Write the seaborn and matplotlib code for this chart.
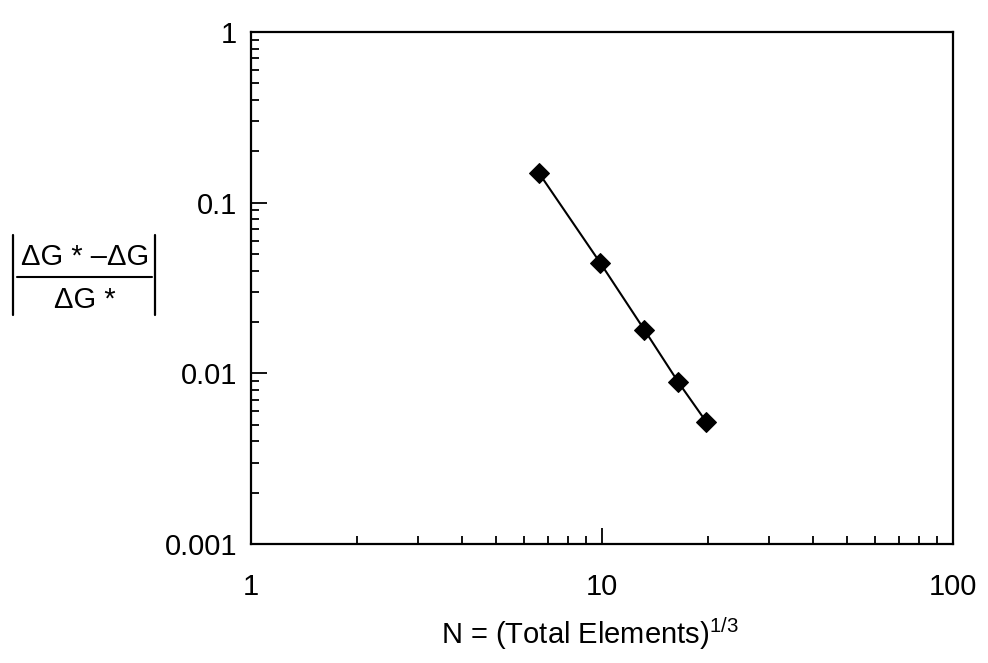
import matplotlib
matplotlib.use("Agg")
import matplotlib.pyplot as plt
import seaborn as sns
import pandas as pd
from matplotlib.lines import Line2D
from matplotlib.ticker import LogLocator, NullFormatter, FixedLocator, FixedFormatter

# Data
n_values = [6.6, 9.9, 13.2, 16.5, 19.8]
rel_error = [0.150, 0.0442, 0.0180, 0.00887, 0.00521]
x_ticks = [1, 10, 100]
x_tick_labels = ["1", "10", "100"]
y_ticks = [0.001, 0.01, 0.1, 1]
y_tick_labels = ["0.001", "0.01", "0.1", "1"]

sns.set_style("ticks")
plt.rcParams['font.family'] = ['Liberation Sans', 'DejaVu Sans']
plt.rcParams['mathtext.fontset'] = 'custom'
plt.rcParams['mathtext.rm'] = 'Liberation Sans'
plt.rcParams['mathtext.it'] = 'Liberation Sans:italic'
plt.rcParams['mathtext.sf'] = 'Liberation Sans'

W, H = 988, 663
df = pd.DataFrame({"N": n_values, "err": rel_error})

fig = plt.figure(figsize=(W/100, H/100), dpi=100)
ax = fig.add_axes([251/W, 1-544/H, (953-251)/W, (544-32)/H])

sns.lineplot(data=df, x="N", y="err", ax=ax, color="black", linewidth=1.5,
             marker="D", markersize=10.5, markeredgecolor="black",
             markerfacecolor="black", legend=False)

ax.set_xscale("log")
ax.set_yscale("log")
ax.set_xlim(1, 100)
ax.set_ylim(0.001, 1)

ax.xaxis.set_major_locator(FixedLocator(x_ticks))
ax.xaxis.set_major_formatter(FixedFormatter(x_tick_labels))
ax.yaxis.set_major_locator(FixedLocator(y_ticks))
ax.yaxis.set_major_formatter(FixedFormatter(y_tick_labels))
ax.xaxis.set_minor_locator(LogLocator(base=10, subs=range(2, 10)))
ax.yaxis.set_minor_locator(LogLocator(base=10, subs=range(2, 10)))
ax.xaxis.set_minor_formatter(NullFormatter())
ax.yaxis.set_minor_formatter(NullFormatter())

ax.tick_params(which="both", direction="in", top=False, right=False, width=1.3,
               colors="black", labelcolor="black")
ax.tick_params(which="major", length=11.5, labelsize=21)
ax.tick_params(axis="x", which="major", pad=21)
ax.tick_params(axis="y", which="major", pad=10)
ax.tick_params(which="minor", length=5.8)
for s in ax.spines.values():
    s.set_visible(True)
    s.set_linewidth(1.6)
    s.set_color("black")
ax.set_xlabel("")
ax.set_ylabel("")

def fx(px):
    return px / W

def fy(py):
    return 1 - py / H

# x-axis label
fig.text(fx(590), fy(634), r"N = (Total Elements)$^{\mathregular{1/3}}$",
         fontsize=21, ha="center", va="center", color="black")

# y-axis label: |(ΔG* − ΔG) / ΔG*|
fig.text(fx(85), fy(265), "ΔG * –ΔG", fontsize=21, ha="center", va="baseline", color="black")
fig.text(fx(85), fy(308), "ΔG *", fontsize=21, ha="center", va="baseline", color="black")
fig.add_artist(Line2D([fx(17), fx(152)], [fy(277), fy(277)], transform=fig.transFigure,
                      color="black", linewidth=1.5))
for bx in (13, 155):
    fig.add_artist(Line2D([fx(bx), fx(bx)], [fy(235), fy(315)], transform=fig.transFigure,
                          color="black", linewidth=1.6))

fig.savefig("out.png", dpi=100)
